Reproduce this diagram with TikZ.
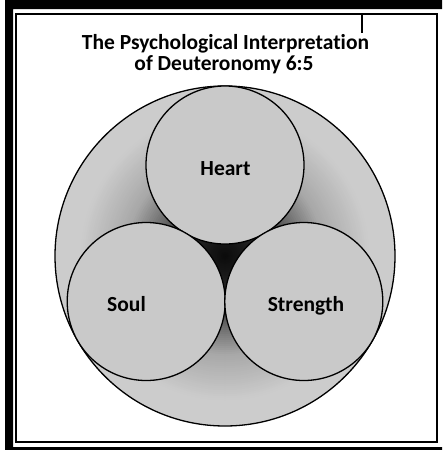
\documentclass[tikz,border=0pt]{standalone}
\usepackage{fontspec}
\setmainfont{Carlito}[Ligatures=NoCommon]
\definecolor{lightfill}{HTML}{C9C9C9}
\begin{document}
\begin{tikzpicture}[x=1pt,y=-1pt,
  frameline/.style={draw=black,line width=2pt},
  bigcirc/.style={circle,draw=black,line width=1.3pt,minimum size=340pt,inner sep=0pt},
  smallcirc/.style={circle,draw=black,line width=1.3pt,fill=lightfill,minimum size=158pt,inner sep=0pt},
  lbl/.style={font=\fontsize{21.5}{26}\selectfont\bfseries,inner sep=0pt,anchor=base},
  ttl/.style={font=\fontsize{21.5}{26}\selectfont\bfseries,inner sep=0pt,anchor=base}]
\useasboundingbox (0,0) rectangle (442,450);
\fill[white] (0,0) rectangle (442,450);
\clip (0,0) rectangle (442,450);
% outer thick frame
\fill[black,even odd rule] (5,-10) rectangle (470,470) (13,9) rectangle (455,447);
% inner thin frame
\draw[frameline] (16,14) rectangle (437,442);
% tick
\coordinate (tickA) at (362,14);
\coordinate (tickB) at (362,33);
\draw[line width=1.5pt] (tickA) -- (tickB);
% title
\node[ttl] (title1) at (225.5,49) {The Psychological Interpretation};
\node[ttl] (title2) at (224,70) {of Deuteronomy 6:5};
% big circle with radial gradient (drawn as concentric discs)
\coordinate (ctr) at (225,256);
\foreach \i in {0,...,85}{%
  \pgfmathsetmacro\rr{170-2*\i}%
  \pgfmathsetmacro\pp{\rr>=145 ? 20 : (\rr>=100 ? 20+(145-\rr)/45*14 : (\rr>=65 ? 34+(100-\rr)/35*30 : (\rr>=44 ? 64+(65-\rr)/21*18 : (\rr>=14 ? 82+(44-\rr)/30*10 : 92+(14-\rr)/14*4))))}%
  \fill[black!\pp] (ctr) circle[radius=\rr];
}
\node[bigcirc] (outer) at (ctr) {};
\node[smallcirc] (heart) at (225,165) {};
\node[smallcirc] (soul) at (146.2,301.5) {};
\node[smallcirc] (strength) at (303.8,301.5) {};
% labels
\node[lbl] (lheart) at (225.5,175) {Heart};
\node[lbl] (lsoul) at (126.5,311) {Soul};
\node[lbl] (lstrength) at (306,311) {Strength};
\end{tikzpicture}
\end{document}
